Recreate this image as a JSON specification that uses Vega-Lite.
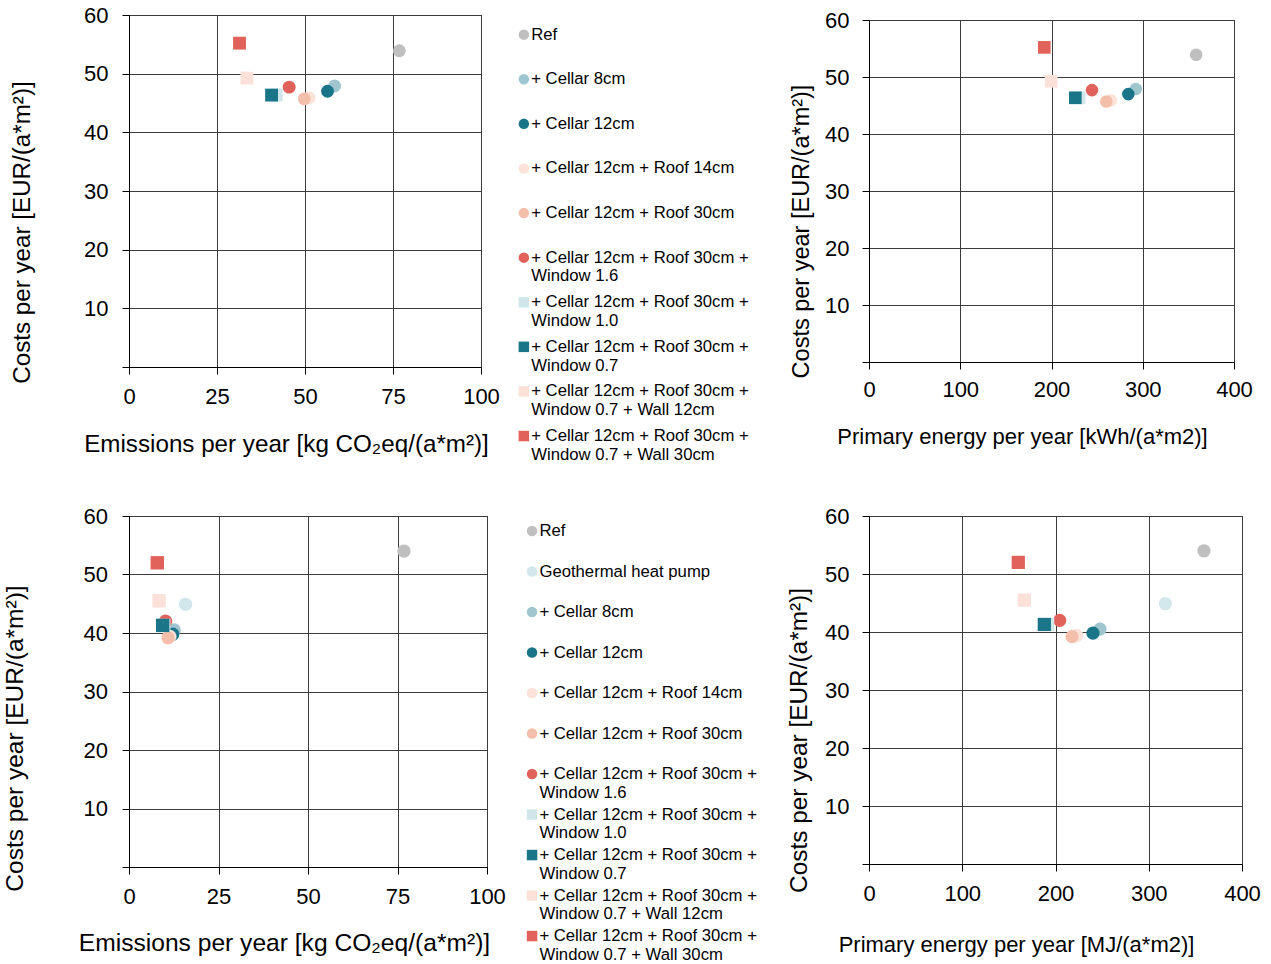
{
  "$schema": "https://vega.github.io/schema/vega-lite/v6.json",
  "padding": {"left": 1, "top": 3, "right": 0, "bottom": 0},
  "background": "white",
  "config": {
    "font": "Liberation Sans",
    "view": {"stroke": "#000000", "strokeWidth": 1},
    "axis": {
      "grid": true, "gridColor": "#3c3c3c", "gridWidth": 1, "gridOpacity": 1,
      "domainColor": "#000000", "domainWidth": 1,
      "tickColor": "#000000", "tickSize": 7, "tickWidth": 1,
      "labelFont": "Liberation Sans", "labelFontSize": 22, "labelColor": "#000000",
      "titleFont": "Liberation Sans", "titleFontSize": 22, "titleFontWeight": "normal", "titleColor": "#000000",
      "titleBaseline": "middle", "labelFlush": false, "labelOverlap": false, "labelBound": false
    },
    "legend": {
      "labelFont": "Liberation Sans", "labelFontSize": 16.7, "labelColor": "#000000",
      "labelLimit": 320, "labelOffset": -1, "symbolSize": 110, "symbolStrokeWidth": 0,
      "title": null, "padding": 0
    }
  },
  "datasets": {
    "top": [
      {"variant": "Ref", "emissions": 76.8, "energy": 358.5, "costs": 53.9},
      {"variant": "+ Cellar 8cm", "emissions": 58.4, "energy": 292.3, "costs": 47.9},
      {"variant": "+ Cellar 12cm", "emissions": 56.4, "energy": 284.2, "costs": 47.0},
      {"variant": "+ Cellar 12cm + Roof 14cm", "emissions": 51.2, "energy": 265.2, "costs": 45.9},
      {"variant": "+ Cellar 12cm + Roof 30cm", "emissions": 49.8, "energy": 260.1, "costs": 45.7},
      {"variant": "+ Cellar 12cm + Roof 30cm +\nWindow 1.6", "emissions": 45.5, "energy": 244.4, "costs": 47.7},
      {"variant": "+ Cellar 12cm + Roof 30cm +\nWindow 1.0", "emissions": 41.8, "energy": 230.3, "costs": 46.35},
      {"variant": "+ Cellar 12cm + Roof 30cm +\nWindow 0.7", "emissions": 40.5, "energy": 226.1, "costs": 46.35},
      {"variant": "+ Cellar 12cm + Roof 30cm +\nWindow 0.7 + Wall 12cm", "emissions": 33.5, "energy": 199.6, "costs": 49.25},
      {"variant": "+ Cellar 12cm + Roof 30cm +\nWindow 0.7 + Wall 30cm", "emissions": 31.4, "energy": 192.1, "costs": 55.2}
    ],
    "bottom": [
      {"variant": "Ref", "emissions": 76.8, "energy": 359.2, "costs": 54.0},
      {"variant": "Geothermal heat pump", "emissions": 15.8, "energy": 317.8, "costs": 44.9},
      {"variant": "+ Cellar 8cm", "emissions": 12.6, "energy": 247.7, "costs": 40.5},
      {"variant": "+ Cellar 12cm", "emissions": 12.2, "energy": 240.2, "costs": 39.8},
      {"variant": "+ Cellar 12cm + Roof 14cm", "emissions": 11.4, "energy": 222.7, "costs": 39.4},
      {"variant": "+ Cellar 12cm + Roof 30cm", "emissions": 10.9, "energy": 217.7, "costs": 39.2},
      {"variant": "+ Cellar 12cm + Roof 30cm +\nWindow 1.6", "emissions": 10.2, "energy": 204.5, "costs": 42.0},
      {"variant": "+ Cellar 12cm + Roof 30cm +\nWindow 1.0", "emissions": 9.7, "energy": 191.6, "costs": 41.3},
      {"variant": "+ Cellar 12cm + Roof 30cm +\nWindow 0.7", "emissions": 9.4, "energy": 188.0, "costs": 41.3},
      {"variant": "+ Cellar 12cm + Roof 30cm +\nWindow 0.7 + Wall 12cm", "emissions": 8.4, "energy": 166.6, "costs": 45.5},
      {"variant": "+ Cellar 12cm + Roof 30cm +\nWindow 0.7 + Wall 30cm", "emissions": 7.9, "energy": 160.1, "costs": 52.0}
    ]
  },
  "bounds": "flush",
  "columns": 2,
  "spacing": {"row": 149, "column": 382},
  "center": {"row": true},
  "resolve": {
    "scale": {"x": "independent", "y": "independent", "color": "independent", "shape": "independent"},
    "axis": {"x": "independent", "y": "independent"},
    "legend": {"color": "independent", "shape": "independent"}
  },
  "concat": [
    {
      "width": 352, "height": 352,
      "data": {"name": "top"},
      "mark": {"type": "point", "filled": true, "opacity": 1, "size": 165},
      "encoding": {
        "x": {"field": "emissions", "type": "quantitative",
          "scale": {"domain": [0, 100], "nice": false, "zero": false},
          "axis": {"title": "Emissions per year [kg CO₂eq/(a*m²)]", "titleFontSize": 24.2, "values": [0, 25, 50, 75, 100], "labelPadding": 12, "titleX": 157, "titleY": 77}},
        "y": {"field": "costs", "type": "quantitative",
          "scale": {"domain": [0, 60], "nice": false, "zero": false},
          "axis": {"title": "Costs per year [EUR/(a*m²)]", "titleFontSize": 24.2, "values": [0, 10, 20, 30, 40, 50, 60], "labelPadding": 14,
            "labelExpr": "datum.value === 0 ? '' : datum.label", "titleX": -107, "titleY": 217}},
        "color": {"field": "variant", "type": "nominal",
          "scale": {
            "domain": ["Ref", "+ Cellar 8cm", "+ Cellar 12cm", "+ Cellar 12cm + Roof 14cm", "+ Cellar 12cm + Roof 30cm", "+ Cellar 12cm + Roof 30cm +\nWindow 1.6", "+ Cellar 12cm + Roof 30cm +\nWindow 1.0", "+ Cellar 12cm + Roof 30cm +\nWindow 0.7", "+ Cellar 12cm + Roof 30cm +\nWindow 0.7 + Wall 12cm", "+ Cellar 12cm + Roof 30cm +\nWindow 0.7 + Wall 30cm"],
            "range": ["#BFBFBF", "#9FC6CF", "#1B7589", "#FCE3DA", "#F3BFAB", "#E0625A", "#D0E6EB", "#1B7589", "#FBE1D8", "#E0625A"]},
          "legend": {"orient": "none", "legendX": 386.5, "legendY": 11.3, "rowPadding": 8.6,
            "labelExpr": "indexof(datum.label, '\\n') >= 0 ? split(datum.label, '\\n') : [datum.label, '']"}},
        "shape": {"field": "variant", "type": "nominal",
          "scale": {
            "domain": ["Ref", "+ Cellar 8cm", "+ Cellar 12cm", "+ Cellar 12cm + Roof 14cm", "+ Cellar 12cm + Roof 30cm", "+ Cellar 12cm + Roof 30cm +\nWindow 1.6", "+ Cellar 12cm + Roof 30cm +\nWindow 1.0", "+ Cellar 12cm + Roof 30cm +\nWindow 0.7", "+ Cellar 12cm + Roof 30cm +\nWindow 0.7 + Wall 12cm", "+ Cellar 12cm + Roof 30cm +\nWindow 0.7 + Wall 30cm"],
            "range": ["circle", "circle", "circle", "circle", "circle", "circle", "square", "square", "square", "square"]},
          "legend": {"orient": "none", "legendX": 386.5, "legendY": 11.3, "rowPadding": 8.6,
            "labelExpr": "indexof(datum.label, '\\n') >= 0 ? split(datum.label, '\\n') : [datum.label, '']"}}
      }
    },
    {
      "width": 365, "height": 342,
      "data": {"name": "top"},
      "mark": {"type": "point", "filled": true, "opacity": 1, "size": 160},
      "encoding": {
        "x": {"field": "energy", "type": "quantitative",
          "scale": {"domain": [0, 400], "nice": false, "zero": false},
          "axis": {"title": "Primary energy per year [kWh/(a*m2)]", "values": [0, 100, 200, 300, 400], "labelPadding": 10, "titleX": 153, "titleY": 74}},
        "y": {"field": "costs", "type": "quantitative",
          "scale": {"domain": [0, 60], "nice": false, "zero": false},
          "axis": {"title": "Costs per year [EUR/(a*m²)]", "titleFontSize": 23.5, "values": [0, 10, 20, 30, 40, 50, 60], "labelPadding": 13,
            "labelExpr": "datum.value === 0 ? '' : datum.label", "titleX": -68, "titleY": 211}},
        "color": {"field": "variant", "type": "nominal",
          "scale": {
            "domain": ["Ref", "+ Cellar 8cm", "+ Cellar 12cm", "+ Cellar 12cm + Roof 14cm", "+ Cellar 12cm + Roof 30cm", "+ Cellar 12cm + Roof 30cm +\nWindow 1.6", "+ Cellar 12cm + Roof 30cm +\nWindow 1.0", "+ Cellar 12cm + Roof 30cm +\nWindow 0.7", "+ Cellar 12cm + Roof 30cm +\nWindow 0.7 + Wall 12cm", "+ Cellar 12cm + Roof 30cm +\nWindow 0.7 + Wall 30cm"],
            "range": ["#BFBFBF", "#9FC6CF", "#1B7589", "#FCE3DA", "#F3BFAB", "#E0625A", "#D0E6EB", "#1B7589", "#FBE1D8", "#E0625A"]},
          "legend": null},
        "shape": {"field": "variant", "type": "nominal",
          "scale": {
            "domain": ["Ref", "+ Cellar 8cm", "+ Cellar 12cm", "+ Cellar 12cm + Roof 14cm", "+ Cellar 12cm + Roof 30cm", "+ Cellar 12cm + Roof 30cm +\nWindow 1.6", "+ Cellar 12cm + Roof 30cm +\nWindow 1.0", "+ Cellar 12cm + Roof 30cm +\nWindow 0.7", "+ Cellar 12cm + Roof 30cm +\nWindow 0.7 + Wall 12cm", "+ Cellar 12cm + Roof 30cm +\nWindow 0.7 + Wall 30cm"],
            "range": ["circle", "circle", "circle", "circle", "circle", "circle", "square", "square", "square", "square"]},
          "legend": null}
      }
    },
    {
      "width": 358, "height": 351,
      "data": {"name": "bottom"},
      "mark": {"type": "point", "filled": true, "opacity": 1, "size": 180},
      "encoding": {
        "x": {"field": "emissions", "type": "quantitative",
          "scale": {"domain": [0, 100], "nice": false, "zero": false},
          "axis": {"title": "Emissions per year [kg CO₂eq/(a*m²)]", "titleFontSize": 24.6, "values": [0, 25, 50, 75, 100], "labelPadding": 12.5, "titleX": 155, "titleY": 76}},
        "y": {"field": "costs", "type": "quantitative",
          "scale": {"domain": [0, 60], "nice": false, "zero": false},
          "axis": {"title": "Costs per year [EUR/(a*m²)]", "titleFontSize": 24.5, "values": [0, 10, 20, 30, 40, 50, 60], "labelPadding": 14.5,
            "labelExpr": "datum.value === 0 ? '' : datum.label", "titleX": -114, "titleY": 222}},
        "color": {"field": "variant", "type": "nominal",
          "scale": {
            "domain": ["Ref", "Geothermal heat pump", "+ Cellar 8cm", "+ Cellar 12cm", "+ Cellar 12cm + Roof 14cm", "+ Cellar 12cm + Roof 30cm", "+ Cellar 12cm + Roof 30cm +\nWindow 1.6", "+ Cellar 12cm + Roof 30cm +\nWindow 1.0", "+ Cellar 12cm + Roof 30cm +\nWindow 0.7", "+ Cellar 12cm + Roof 30cm +\nWindow 0.7 + Wall 12cm", "+ Cellar 12cm + Roof 30cm +\nWindow 0.7 + Wall 30cm"],
            "range": ["#BFBFBF", "#D2E7EC", "#9FC6CF", "#1B7589", "#FCE3DA", "#F3BFAB", "#E0625A", "#D0E6EB", "#1B7589", "#FBE1D8", "#E0625A"]},
          "legend": {"orient": "none", "legendX": 394.7, "legendY": 6.7, "rowPadding": 4.5,
            "labelExpr": "indexof(datum.label, '\\n') >= 0 ? split(datum.label, '\\n') : [datum.label, '']"}},
        "shape": {"field": "variant", "type": "nominal",
          "scale": {
            "domain": ["Ref", "Geothermal heat pump", "+ Cellar 8cm", "+ Cellar 12cm", "+ Cellar 12cm + Roof 14cm", "+ Cellar 12cm + Roof 30cm", "+ Cellar 12cm + Roof 30cm +\nWindow 1.6", "+ Cellar 12cm + Roof 30cm +\nWindow 1.0", "+ Cellar 12cm + Roof 30cm +\nWindow 0.7", "+ Cellar 12cm + Roof 30cm +\nWindow 0.7 + Wall 12cm", "+ Cellar 12cm + Roof 30cm +\nWindow 0.7 + Wall 30cm"],
            "range": ["circle", "circle", "circle", "circle", "circle", "circle", "circle", "square", "square", "square", "square"]},
          "legend": {"orient": "none", "legendX": 394.7, "legendY": 6.7, "rowPadding": 4.5,
            "labelExpr": "indexof(datum.label, '\\n') >= 0 ? split(datum.label, '\\n') : [datum.label, '']"}}
      }
    },
    {
      "width": 373, "height": 348,
      "data": {"name": "bottom"},
      "mark": {"type": "point", "filled": true, "opacity": 1, "size": 175},
      "encoding": {
        "x": {"field": "energy", "type": "quantitative",
          "scale": {"domain": [0, 400], "nice": false, "zero": false},
          "axis": {"title": "Primary energy per year [MJ/(a*m2)]", "values": [0, 100, 200, 300, 400], "labelPadding": 12, "titleX": 147, "titleY": 80}},
        "y": {"field": "costs", "type": "quantitative",
          "scale": {"domain": [0, 60], "nice": false, "zero": false},
          "axis": {"title": "Costs per year [EUR/(a*m²)]", "titleFontSize": 24.4, "values": [0, 10, 20, 30, 40, 50, 60], "labelPadding": 13,
            "labelExpr": "datum.value === 0 ? '' : datum.label", "titleX": -70, "titleY": 224}},
        "color": {"field": "variant", "type": "nominal",
          "scale": {
            "domain": ["Ref", "Geothermal heat pump", "+ Cellar 8cm", "+ Cellar 12cm", "+ Cellar 12cm + Roof 14cm", "+ Cellar 12cm + Roof 30cm", "+ Cellar 12cm + Roof 30cm +\nWindow 1.6", "+ Cellar 12cm + Roof 30cm +\nWindow 1.0", "+ Cellar 12cm + Roof 30cm +\nWindow 0.7", "+ Cellar 12cm + Roof 30cm +\nWindow 0.7 + Wall 12cm", "+ Cellar 12cm + Roof 30cm +\nWindow 0.7 + Wall 30cm"],
            "range": ["#BFBFBF", "#D2E7EC", "#9FC6CF", "#1B7589", "#FCE3DA", "#F3BFAB", "#E0625A", "#D0E6EB", "#1B7589", "#FBE1D8", "#E0625A"]},
          "legend": null},
        "shape": {"field": "variant", "type": "nominal",
          "scale": {
            "domain": ["Ref", "Geothermal heat pump", "+ Cellar 8cm", "+ Cellar 12cm", "+ Cellar 12cm + Roof 14cm", "+ Cellar 12cm + Roof 30cm", "+ Cellar 12cm + Roof 30cm +\nWindow 1.6", "+ Cellar 12cm + Roof 30cm +\nWindow 1.0", "+ Cellar 12cm + Roof 30cm +\nWindow 0.7", "+ Cellar 12cm + Roof 30cm +\nWindow 0.7 + Wall 12cm", "+ Cellar 12cm + Roof 30cm +\nWindow 0.7 + Wall 30cm"],
            "range": ["circle", "circle", "circle", "circle", "circle", "circle", "circle", "square", "square", "square", "square"]},
          "legend": null}
      }
    }
  ]
}
